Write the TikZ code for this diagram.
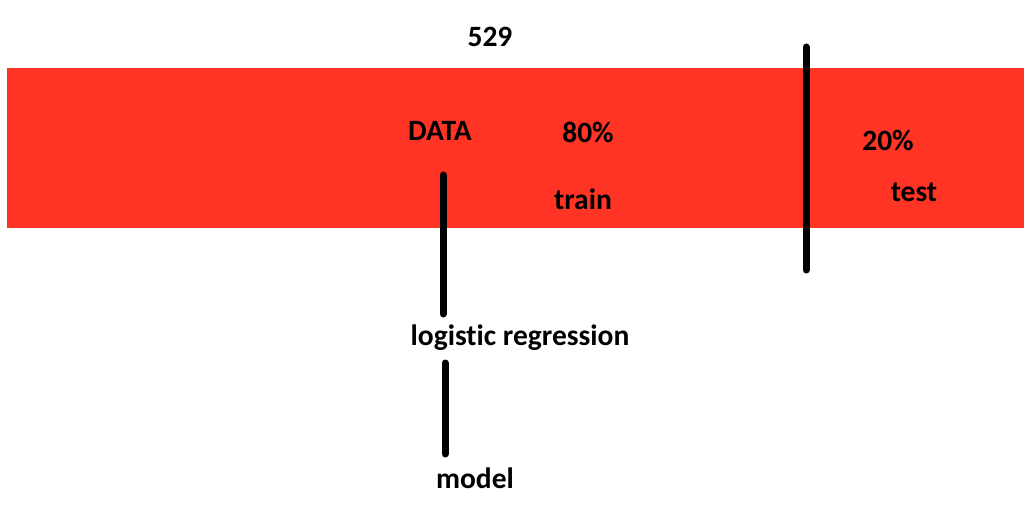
\documentclass[tikz,border=0pt]{standalone}
\usepackage{fontspec}
\setmainfont[RawFeature={-liga;-clig;-dlig}]{Carlito}
\definecolor{datared}{RGB}{255,52,36}
\tikzset{
    lbl/.style={font=\bfseries\fontsize{29.5}{34}\selectfont, inner sep=0pt},
    bar/.style={line width=7pt, line cap=round},
}
\begin{document}
\begin{tikzpicture}[x=1pt,y=-1pt]
            \useasboundingbox (0,0) rectangle (1032,521);
            \fill[datared] (7,68) rectangle (1024,228);
            \node[lbl] (total) at (490,37) {529};
            \node[lbl] (data) at (440,131) {DATA};
            \node[lbl] (trainpct) at (588,132) {80\%};
            \node[lbl] (train) at (583,199) {train};
            \node[lbl] (testpct) at (888,140) {20\%};
            \node[lbl] (test) at (914,192) {test};
            \node[lbl] (logreg) at (520,338) {logistic regression};
            \node[lbl] (model) at (475,478) {model};
            \coordinate (splittop) at (806,47);
            \coordinate (splitbot) at (806,270);
            \draw[bar] (443,175) -- (443,314);
            \draw[bar] (445,363) -- (445,454);
            \draw[bar] (splittop) -- (splitbot);
\end{tikzpicture}
\end{document}
